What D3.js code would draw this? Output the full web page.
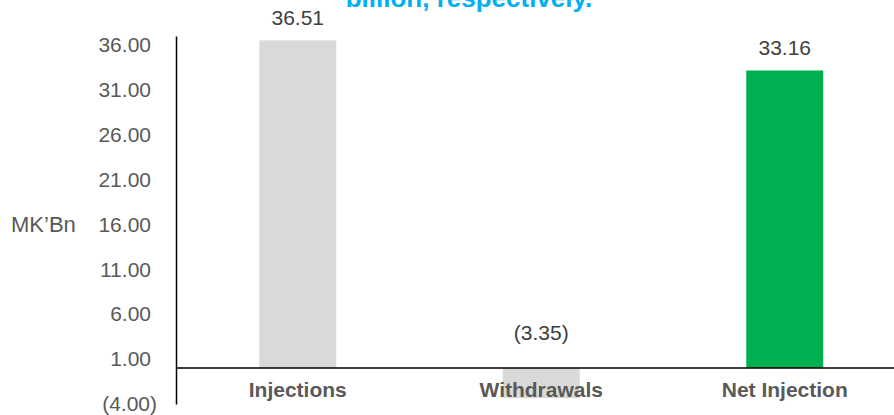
<!DOCTYPE html>
<html>
<head>
<meta charset="utf-8">
<script src="https://cdn.jsdelivr.net/npm/d3@7"></script>
<style>
  body { margin: 0; background: #fff; }
  svg { display: block; font-family: "Liberation Sans", Arial, sans-serif; }
</style>
</head>
<body>
<svg></svg>
<script>
var width = 894;
var height = 415;

var categories = ["Injections", "Withdrawals", "Net Injection"];
var values = [36.51, -3.35, 33.16];
var barColors = ["#D9D9D9", "#D9D9D9", "#00B050"];
var tickValues = [-4, 1, 6, 11, 16, 21, 26, 31, 36];
var titleText = "billion, respectively.";
var unitLabel = "MK\u2019Bn";

var axisX = 176;

var svg = d3.select("svg")
    .attr("width", width)
    .attr("height", height);

var x = d3.scaleBand()
    .domain(categories)
    .range([axisX, 906.5])
    .paddingInner(0.684)
    .paddingOuter(0.342);

var y = d3.scaleLinear()
    .domain([-4, 37])
    .range([404, 36]);

var fmt = d3.format(",.2f");
function numLabel(v) {
  return v < 0 ? "(" + fmt(-v) + ")" : fmt(v);
}

// title (cut off at top, as in the source slide)
svg.append("text")
    .attr("x", 469)
    .attr("y", 7)
    .attr("text-anchor", "middle")
    .style("font-size", "26px")
    .style("font-weight", "bold")
    .style("fill", "#00B0F0")
    .text(titleText);

// bars
svg.selectAll(".bar")
  .data(values)
  .enter()
  .append("rect")
    .classed("bar", true)
    .attr("x", (d, i) => x(categories[i]))
    .attr("width", x.bandwidth())
    .attr("y", d => y(Math.max(d, 0)))
    .attr("height", d => Math.abs(y(d) - y(0)))
    .attr("fill", (d, i) => barColors[i]);

// y axis
var yAxis = d3.axisLeft(y)
    .tickValues(tickValues)
    .tickSize(0)
    .tickSizeOuter(0)
    .tickFormat(numLabel);

var gy = svg.append("g")
    .attr("transform", "translate(" + axisX + ",0)")
    .call(yAxis);

gy.select(".domain")
    .attr("stroke", "#000")
    .attr("stroke-width", 1.5);

gy.selectAll(".tick text")
    .attr("x", d => d < 0 ? -19 : -25)
    .style("font-size", "21px")
    .style("font-family", "'Liberation Sans', Arial, sans-serif")
    .style("fill", "#595959");

// zero line
svg.append("line")
    .attr("x1", axisX)
    .attr("x2", width)
    .attr("y1", y(0))
    .attr("y2", y(0))
    .attr("stroke", "#000")
    .attr("stroke-width", 1.5);

// data labels
svg.selectAll(".val")
  .data(values)
  .enter()
  .append("text")
    .classed("val", true)
    .attr("x", (d, i) => x(categories[i]) + x.bandwidth() / 2)
    .attr("y", d => d < 0 ? y(0) - 28 : y(d) - 15)
    .attr("text-anchor", "middle")
    .style("font-size", "21px")
    .style("fill", "#404040")
    .text(numLabel);

// category labels
svg.selectAll(".cat")
  .data(categories)
  .enter()
  .append("text")
    .classed("cat", true)
    .attr("x", d => x(d) + x.bandwidth() / 2)
    .attr("y", 397)
    .attr("text-anchor", "middle")
    .style("font-size", "21px")
    .style("font-weight", "bold")
    .style("fill", "#595959")
    .text(d => d);

// unit label
svg.append("text")
    .attr("x", 11)
    .attr("y", y(16) + 8)
    .style("font-size", "22px")
    .style("fill", "#595959")
    .text(unitLabel);
</script>
</body>
</html>
